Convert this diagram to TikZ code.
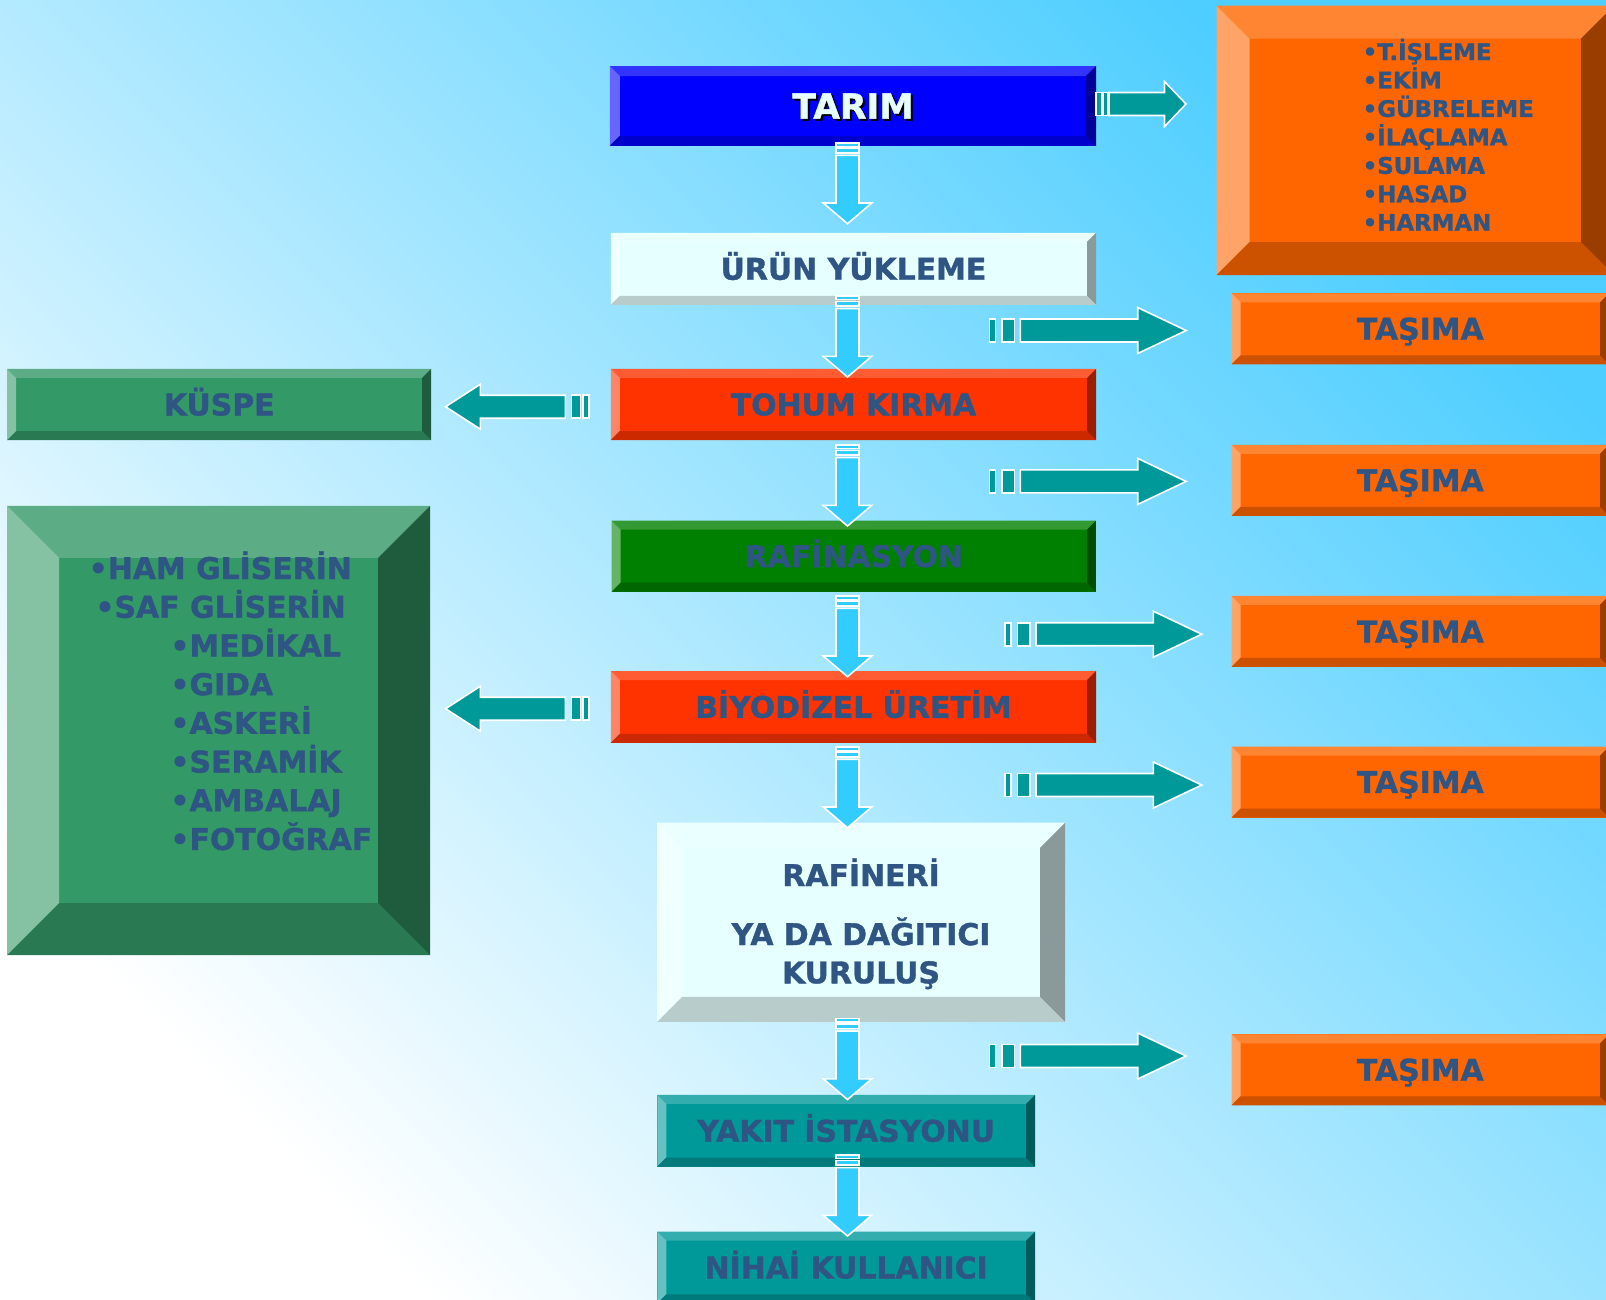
\documentclass[tikz,border=0pt]{standalone}
\usepackage{fontspec}
\setmainfont{DejaVu Sans}[BoldFeatures={FakeBold=1.2}]
\usetikzlibrary{calc}

\definecolor{txtblue}{HTML}{2E5583}
\definecolor{bgcyan}{HTML}{4ECEFF}
\definecolor{bgmid}{HTML}{BCE8FF}
\definecolor{arrblue}{HTML}{33CCFF}
\definecolor{arrteal}{HTML}{009999}
% bevel colours: face, top, left, bottom, right
\definecolor{bluface}{HTML}{0000FF}\definecolor{blutop}{HTML}{3333FF}\definecolor{blulft}{HTML}{6666FF}\definecolor{blubot}{HTML}{0000CC}\definecolor{blurgt}{HTML}{000099}
\definecolor{icyface}{HTML}{E6FFFF}\definecolor{icytop}{HTML}{EAFFFF}\definecolor{icylft}{HTML}{F0FFFF}\definecolor{icybot}{HTML}{B8CCCC}\definecolor{icyrgt}{HTML}{8A9999}
\definecolor{redface}{HTML}{FF3300}\definecolor{redtop}{HTML}{FF5C33}\definecolor{redlft}{HTML}{FF8566}\definecolor{redbot}{HTML}{CC2900}\definecolor{redrgt}{HTML}{991F00}
\definecolor{grnface}{HTML}{008000}\definecolor{grntop}{HTML}{339933}\definecolor{grnlft}{HTML}{66B366}\definecolor{grnbot}{HTML}{006600}\definecolor{grnrgt}{HTML}{004D00}
\definecolor{tlface}{HTML}{009999}\definecolor{tltop}{HTML}{33ADAD}\definecolor{tllft}{HTML}{66C2C2}\definecolor{tlbot}{HTML}{007A7A}\definecolor{tlrgt}{HTML}{005C5C}
\definecolor{sgface}{HTML}{339966}\definecolor{sgtop}{HTML}{5CAD85}\definecolor{sglft}{HTML}{85C2A3}\definecolor{sgbot}{HTML}{297A52}\definecolor{sgrgt}{HTML}{1F5C3D}
\definecolor{orface}{HTML}{FF6600}\definecolor{ortop}{HTML}{FF8533}\definecolor{orlft}{HTML}{FFA366}\definecolor{orbot}{HTML}{CC5200}\definecolor{orrgt}{HTML}{993D00}

\tikzset{
  bevw/.store in=\bevw, bevw=9,
  bevel/.style={fill=#1face, path picture={
      \coordinate (nw) at (path picture bounding box.north west);
      \coordinate (se) at (path picture bounding box.south east);
      \fill[#1top] (nw) -- (nw -| se) -- ++(-\bevw,\bevw) -- ($(nw)+(\bevw,\bevw)$) -- cycle;
      \fill[#1lft] (nw) -- ($(nw)+(\bevw,\bevw)$) -- ($(nw |- se)+(\bevw,-\bevw)$) -- (nw |- se) -- cycle;
      \fill[#1bot] (nw |- se) -- (se) -- ($(se)+(-\bevw,-\bevw)$) -- ($(nw |- se)+(\bevw,-\bevw)$) -- cycle;
      \fill[#1rgt] (nw -| se) -- (se) -- ($(se)+(-\bevw,-\bevw)$) -- ($(nw -| se)+(-\bevw,\bevw)$) -- cycle;
    }},
  lbl/.style={font=\bfseries\fontsize{8.5}{10}\selectfont, text=txtblue, text height=6.2pt, text depth=0pt},
  lst/.style={font=\bfseries\fontsize{8.5}{10}\selectfont, text=txtblue, anchor=base west},
  olst/.style={font=\bfseries\fontsize{6.5}{8}\selectfont, text=txtblue, anchor=base west},
  blk/.style={draw=white, line width=0.45pt},
  dnarrow/.pic={
    \filldraw[blk, fill=arrblue] (-11.5,0) rectangle (11.5,3.6) (-11.5,5.3) rectangle (11.5,10);
    \filldraw[blk, fill=arrblue] (-11.5,12.6) -- (11.5,12.6) -- (11.5,60.3) -- (24.2,60.3) -- (0,81)
      -- (-24.2,60.3) -- (-11.5,60.3) -- cycle;
  },
  rarrow/.pic={
    \filldraw[blk, fill=arrteal] (0,-11.5) rectangle (6,11.5) (12.3,-11.5) rectangle (25,11.5);
    \filldraw[blk, fill=arrteal] (31,-11.5) -- (148.3,-11.5) -- (148.3,-23) -- (196.7,0) -- (148.3,23)
      -- (148.3,11.5) -- (31,11.5) -- cycle;
  },
  rarrowsm/.pic={
    \filldraw[blk, fill=arrteal] (0,-11.5) rectangle (6,11.5) (7.5,-11.5) rectangle (12,11.5);
    \filldraw[blk, fill=arrteal] (13,-11.5) -- (68.5,-11.5) -- (68.5,-22.5) -- (90,0) -- (68.5,22.5)
      -- (68.5,11.5) -- (13,11.5) -- cycle;
  },
  larrow/.pic={
    \filldraw[blk, fill=arrteal] (0,-11.5) rectangle (-6,11.5) (-8.5,-11.5) rectangle (-17.6,11.5);
    \filldraw[blk, fill=arrteal] (-23.6,-11.5) -- (-108.6,-11.5) -- (-108.6,-22.5) -- (-143.4,0) -- (-108.6,22.5)
      -- (-108.6,11.5) -- (-23.6,11.5) -- cycle;
  }
}

\begin{document}
\begin{tikzpicture}[x=0.01cm, y=-0.01cm, every node/.style={inner sep=0pt}]
  \useasboundingbox (0,0) rectangle (1606,1299);
  \clip (0,0) rectangle (1606,1299);
  \shade[top color=bgcyan, middle color=bgmid, bottom color=white, shading angle=-45] (0,0) rectangle (1606,1299);

  % main chain
  \node[bevel=blu, bevw=10, minimum width=4.86cm, minimum height=0.797cm] (tarim) at (853,105.9) {};
  \node[font=\bfseries\fontsize{9.8}{11}\selectfont, text=black] (tarimsh) at (855,108) {TARIM};
  \node[font=\bfseries\fontsize{9.8}{11}\selectfont, text=icyface] (tarimtx) at (853,106) {TARIM};
  \node[bevel=icy, lbl, minimum width=4.85cm, minimum height=0.72cm] (urun) at (853.5,268.8) {ÜRÜN YÜKLEME};
  \node[bevel=red, lbl, minimum width=4.85cm, minimum height=0.71cm] (tohum) at (853.5,404.5) {TOHUM KIRMA};
  \node[bevel=grn, lbl, minimum width=4.84cm, minimum height=0.71cm] (rafin) at (853.8,556.2) {RAFİNASYON};
  \node[bevel=red, lbl, minimum width=4.85cm, minimum height=0.717cm] (biyo) at (853.5,706.9) {BİYODİZEL ÜRETİM};
  \node[bevel=icy, bevw=25, minimum width=4.077cm, minimum height=1.99cm] (rafineri) at (861.2,922.2) {};
  \node[lst, anchor=base] (rf1) at (861,886) {RAFİNERİ};
  \node[lst, anchor=base] (rf2) at (861,945) {YA DA DAĞITICI};
  \node[lst, anchor=base] (rf3) at (861,983.3) {KURULUŞ};
  \node[bevel=tl, lbl, minimum width=3.777cm, minimum height=0.717cm] (yakit) at (846.2,1130.8) {YAKIT İSTASYONU};
  \node[bevel=tl, lbl, minimum width=3.777cm, minimum height=0.717cm] (nihai) at (846.2,1267.5) {NİHAİ KULLANICI};

  % left side
  \node[bevel=sg, lbl, minimum width=4.237cm, minimum height=0.71cm] (kuspe) at (219.2,404.5) {KÜSPE};
  \node[bevel=sg, bevw=52, minimum width=4.227cm, minimum height=4.49cm] (gliserin) at (218.7,730.5) {};
  \foreach \x/\t [count=\i] in {88/HAM GLİSERİN, 94.7/SAF GLİSERİN, 169.7/MEDİKAL, 169.7/GIDA,
      169.7/ASKERİ, 169.7/SERAMİK, 169.7/AMBALAJ, 169.7/FOTOĞRAF}
    \node[lst] (g\i) at (\x,{579+38.7*(\i-1)}) {•\t};

  % right side
  \node[bevel=or, bevw=33, minimum width=3.973cm, minimum height=2.693cm] (isler) at (1415.3,140.3) {};
  \foreach \t [count=\i] in {T.İŞLEME,EKİM,GÜBRELEME,İLAÇLAMA,SULAMA,HASAD,HARMAN}
    \node[olst] (o\i) at (1362,{60+28.45*(\i-1)}) {•\t};
  \foreach \y [count=\i] in {328.8,480.3,631.4,782,1069.8}
    \node[bevel=or, lbl, minimum width=3.773cm, minimum height=0.71cm] (tas\i) at (1420.3,\y) {TAŞIMA};

  % arrows
  \foreach \y in {142.7,296,445,595.7,746.7,1018.5,1155}
    \pic at (847.5,\y) {dnarrow};
  \foreach \x/\y in {989.4/330.5,989.4/481.4,1005/634.2,1005/785,989.4/1056}
    \pic at (\x,\y) {rarrow};
  \pic at (1096,104) {rarrowsm};
  \pic at (589,406.7) {larrow};
  \pic at (589,708.7) {larrow};
\end{tikzpicture}
\end{document}
